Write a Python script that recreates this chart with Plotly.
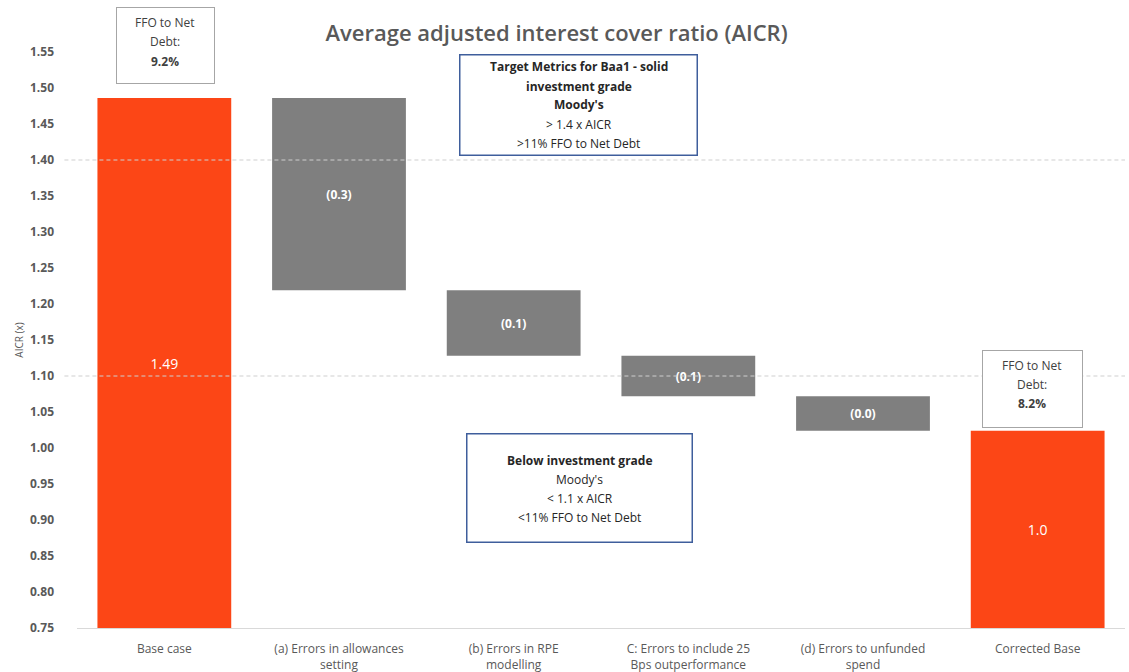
import plotly.graph_objects as go

categories = ["Base case", "(a) Errors in allowances<br>setting", "(b) Errors in RPE<br>modelling",
              "C: Errors to include 25<br>Bps outperformance", "(d) Errors to unfunded<br>spend", "Corrected Base"]
base_value = 1.486
deltas = [-0.267, -0.091, -0.056, -0.048]
delta_labels = ["(0.3)", "(0.1)", "(0.1)", "(0.0)"]
total_labels = ["1.49", "1.0"]
ffo_labels = ["9.2%", "8.2%"]
axis_floor = 0.75
y_ticks = [0.75, 0.80, 0.85, 0.90, 0.95, 1.00, 1.05, 1.10, 1.15, 1.20, 1.25, 1.30, 1.35, 1.40, 1.45, 1.50, 1.55]
threshold_lines = [1.40, 1.10]
target_lines = ["<b>Target Metrics for Baa1 - solid</b>", "<b>investment grade</b>", "<b>Moody's</b>",
                "&gt; 1.4 x AICR", "&gt;11% FFO to Net Debt"]
below_lines = ["<b>Below investment grade</b>", "Moody's", "&lt; 1.1 x AICR", "&lt;11% FFO to Net Debt"]

ORANGE = "#FC4616"
GREY = "#7F7F7F"
TXT = "#595959"
FONT = "Open Sans"

# plot area geometry (px) used only for placing text boxes
L, R, T, B = 77, 4, 52, 44
W, H = 1129, 672
PW, PH = W - L - R, H - T - B


def px_x(x):
    return (x - L) / PW


def px_y(y):
    return (H - B - y) / PH


bases = []
level = base_value
for d in deltas:
    bases.append(level)
    level += d
corrected = level

fig = go.Figure()
fig.add_trace(go.Bar(
    x=[categories[0], categories[-1]],
    y=[base_value - axis_floor, corrected - axis_floor],
    base=[axis_floor, axis_floor],
    marker=dict(color=ORANGE, line=dict(width=0)),
    text=total_labels, textposition="inside", insidetextanchor="middle",
    textfont=dict(color="white", size=14, family=FONT),
    hoverinfo="skip", showlegend=False,
))
fig.add_trace(go.Bar(
    x=categories[1:5], y=deltas, base=bases,
    marker=dict(color=GREY, line=dict(width=0)),
    text=delta_labels, textposition="inside", insidetextanchor="middle",
    textfont=dict(color="white", size=12, family=FONT, weight="bold"),
    hoverinfo="skip", showlegend=False,
))

for yv in threshold_lines:
    fig.add_shape(type="line", xref="paper", yref="y", x0=-0.012, x1=1.0, y0=yv, y1=yv,
                  line=dict(color="#CFCFCF", width=1, dash="4px,3px"), layer="above")


def text_box(cx, cy, w, h, lines, border, bw, size=12, color="#262626", step=19, dy=0):
    fig.add_annotation(x=px_x(cx), y=px_y(cy), xref="paper", yref="paper", text=" ",
                       showarrow=False, bordercolor=border, borderwidth=bw, borderpad=0,
                       bgcolor="white", width=w, height=h, xanchor="center", yanchor="middle")
    n = len(lines)
    for i, ln in enumerate(lines):
        off = (i - (n - 1) / 2) * step + dy
        fig.add_annotation(x=px_x(cx), y=px_y(cy + off), xref="paper", yref="paper", text=ln,
                           showarrow=False, font=dict(family=FONT, size=size, color=color),
                           xanchor="center", yanchor="middle")


text_box(165, 46, 97, 75, ["FFO to Net", "Debt:", "<b>" + ffo_labels[0] + "</b>"], "#A6A6A6", 1,
         size=12, color="#404040", dy=-4)
text_box(1032, 388.5, 99, 76, ["FFO to Net", "Debt:", "<b>" + ffo_labels[1] + "</b>"], "#A6A6A6", 1,
         size=12, color="#404040", dy=-4)
text_box(578.5, 105, 236, 99, target_lines, "#3F5E9C", 1.5, size=12)
text_box(579.5, 488, 224, 107, below_lines, "#3F5E9C", 1.5, size=12, dy=1)

fig.update_layout(
    width=W, height=H,
    margin=dict(l=L, r=R, t=T, b=B, autoexpand=False),
    paper_bgcolor="white", plot_bgcolor="white",
    barmode="overlay", bargap=0.234,
    title=dict(text="Average adjusted interest cover ratio (AICR)", x=0.493, xanchor="center",
               y=0.951, yanchor="middle",
               font=dict(family=FONT, size=22, color=TXT, weight=600)),
    xaxis=dict(categoryorder="array", categoryarray=categories, range=[-0.5, 5.5],
               showline=True, linecolor="#D9D9D9", linewidth=1, showgrid=False,
               ticks="", ticklabelstandoff=10, automargin=False,
               tickfont=dict(family=FONT, size=12, color=TXT)),
    yaxis=dict(range=[axis_floor, 1.55], tickvals=y_ticks, tickformat=".2f",
               showgrid=False, zeroline=False, showline=False, ticks="",
               ticklabelstandoff=22, automargin=False,
               tickfont=dict(family=FONT, size=12, color=TXT, weight="bold"),
               title=dict(text="AICR (x)", font=dict(family=FONT, size=10, color=TXT), standoff=4)),
)

fig.write_html("out.html")
